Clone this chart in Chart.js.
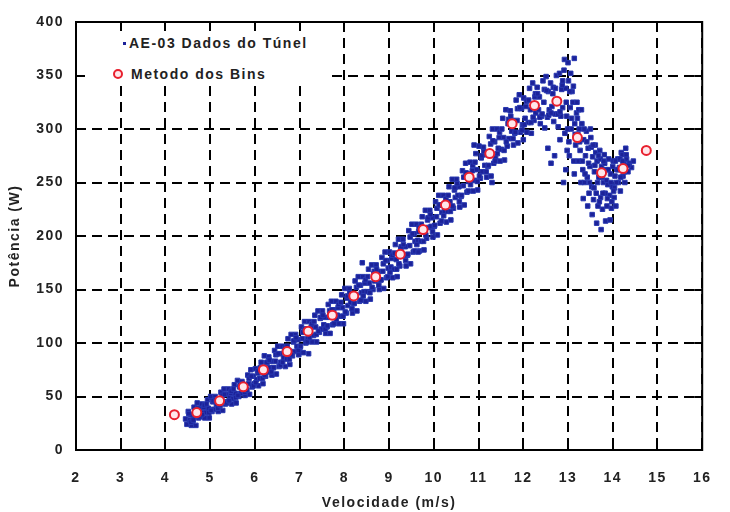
<!DOCTYPE html>
<html>
<head>
<meta charset="utf-8">
<script src="https://cdn.jsdelivr.net/npm/chart.js@4.4.1/dist/chart.umd.min.js"></script>
<style>
  html, body { margin: 0; padding: 0; background: #fff; }
  #wrap { position: relative; width: 730px; height: 512px; }
  #legend { position: absolute; left: 85px; top: 31px; width: 247px; height: 55px; background: #fff;
            font: bold 14px "Liberation Sans", Arial, sans-serif; letter-spacing: 1.5px; color: #222; }
  #legend span { position: absolute; line-height: 16px; white-space: nowrap; }
  .dot { position: absolute; left: 38px; top: 11px; width: 3px; height: 3px; background: #1c2299; }
  .ring { position: absolute; left: 28px; top: 38px; width: 6px; height: 6px; border: 2px solid #e8202e;
          border-radius: 50%; background: #ffe6ea; }
</style>
</head>
<body>
<div id="wrap">
  <canvas id="chart" width="730" height="512"></canvas>
  <div id="legend">
    <div class="dot"></div><span style="left:44px;top:4px">AE-03 Dados do Túnel</span>
    <div class="ring"></div><span style="left:46px;top:35px">Metodo dos Bins</span>
  </div>
</div>
<script>
// Método dos bins (pontos vermelhos)
const binSpeed = [4.2, 4.7, 5.21, 5.74, 6.19, 6.72, 7.19, 7.73, 8.21, 8.7, 9.25, 9.76, 10.26, 10.79, 11.25, 11.75, 12.25, 12.75, 13.21, 13.75, 14.23, 14.75];
const binPower = [33, 35, 46, 59, 75, 92, 111, 126, 144, 162, 183, 206, 229, 255, 277, 305, 322, 326, 292, 259, 263, 280];

const tunnelPoints = [
  [4.45,29],[4.48,24],[4.51,36],[4.54,28],[4.56,33],[4.58,23],[4.61,27],[4.64,40],[4.66,32],[4.68,23],
  [4.71,44],[4.74,30],[4.76,39],[4.78,32],[4.81,43],[4.84,35],[4.86,40],[4.88,30],[4.91,35],[4.94,47],
  [4.96,39],[4.98,30],[5.01,50],[5.04,36],[5.06,45],[5.08,38],[5.11,50],[5.14,42],[5.16,46],[5.18,36],
  [5.21,41],[5.24,54],[5.26,46],[5.28,37],[5.31,57],[5.34,43],[5.36,52],[5.38,45],[5.41,57],[5.44,49],
  [5.46,53],[5.48,43],[5.51,48],[5.54,61],[5.56,53],[5.58,44],[5.61,65],[5.64,50],[5.66,59],[5.68,53],
  [5.71,64],[5.74,56],[5.76,61],[5.78,51],[5.81,56],[5.84,70],[5.86,62],[5.88,52],[5.91,75],[5.94,59],
  [5.96,69],[5.98,62],[6.01,76],[6.04,66],[6.06,72],[6.08,60],[6.11,67],[6.14,82],[6.16,73],[6.18,62],
  [6.21,88],[6.24,69],[6.26,81],[6.28,73],[6.31,87],[6.34,77],[6.36,83],[6.38,70],[6.41,77],[6.44,93],
  [6.46,83],[6.48,71],[6.51,97],[6.54,78],[6.56,90],[6.58,82],[6.61,97],[6.64,86],[6.66,92],[6.68,78],
  [6.71,85],[6.74,104],[6.76,93],[6.78,80],[6.81,108],[6.84,88],[6.86,101],[6.88,92],[6.91,108],[6.94,97],
  [6.96,103],[6.98,89],[7.01,96],[7.04,115],[7.06,104],[7.08,91],[7.11,120],[7.14,100],[7.16,113],[7.18,104],
  [7.21,120],[7.24,108],[7.26,115],[7.28,101],[7.31,107],[7.34,126],[7.36,115],[7.38,101],[7.41,130],[7.44,110],
  [7.46,123],[7.48,113],[7.51,130],[7.54,117],[7.56,124],[7.58,109],[7.61,115],[7.64,136],[7.66,124],[7.68,109],
  [7.71,139],[7.74,117],[7.76,131],[7.78,124],[7.81,139],[7.84,126],[7.86,133],[7.88,118],[7.91,125],[7.94,145],
  [7.96,133],[7.98,118],[8.01,151],[8.04,128],[8.06,142],[8.08,135],[8.11,151],[8.14,138],[8.16,145],[8.18,128],
  [8.21,137],[8.24,158],[8.26,145],[8.28,130],[8.31,162],[8.34,139],[8.36,154],[8.38,147],[8.41,162],[8.44,148],
  [8.46,156],[8.48,139],[8.51,148],[8.54,169],[8.56,156],[8.58,141],[8.61,173],[8.64,150],[8.66,165],[8.68,158],
  [8.71,173],[8.74,159],[8.76,167],[8.78,150],[8.81,159],[8.84,180],[8.86,167],[8.88,151],[8.91,185],[8.94,161],
  [8.96,177],[8.98,170],[9.01,185],[9.04,171],[9.06,179],[9.08,161],[9.11,169],[9.14,192],[9.16,178],[9.18,162],
  [9.21,197],[9.24,172],[9.26,188],[9.28,181],[9.31,197],[9.34,182],[9.36,190],[9.38,172],[9.41,182],[9.44,205],
  [9.46,191],[9.48,174],[9.51,211],[9.54,185],[9.56,202],[9.58,195],[9.61,211],[9.64,196],[9.66,204],[9.68,186],
  [9.71,195],[9.74,218],[9.76,204],[9.78,187],[9.81,224],[9.84,198],[9.86,215],[9.88,208],[9.91,224],[9.94,209],
  [9.96,217],[9.98,199],[10.01,209],[10.04,232],[10.06,218],[10.08,201],[10.11,238],[10.14,212],[10.16,229],[10.18,222],
  [10.21,238],[10.24,223],[10.26,231],[10.28,213],[10.31,223],[10.34,246],[10.36,232],[10.38,215],[10.41,253],[10.44,226],
  [10.46,243],[10.48,236],[10.51,253],[10.54,238],[10.56,246],[10.58,227],[10.61,237],[10.64,261],[10.66,247],[10.68,229],
  [10.71,268],[10.74,241],[10.76,258],[10.78,251],[10.81,269],[10.84,252],[10.86,261],[10.88,242],[10.91,252],[10.94,277],
  [10.96,262],[10.98,243],[11.01,284],[11.04,254],[11.06,273],[11.08,260],[11.11,283],[11.14,266],[11.16,276],[11.18,255],
  [11.21,265],[11.24,293],[11.26,277],[11.28,256],[11.31,300],[11.34,268],[11.36,288],[11.38,274],[11.41,300],[11.44,282],
  [11.46,292],[11.48,270],[11.51,281],[11.54,310],[11.56,292],[11.58,271],[11.61,318],[11.64,284],[11.66,305],[11.68,291],
  [11.71,317],[11.74,298],[11.76,308],[11.78,285],[11.81,296],[11.84,327],[11.86,308],[11.88,287],[11.91,332],[11.94,297],
  [11.96,319],[11.98,304],[12.01,329],[12.04,310],[12.06,321],[12.08,297],[12.11,306],[12.14,338],[12.16,318],[12.18,296],
  [12.21,343],[12.24,308],[12.26,330],[12.28,315],[12.31,339],[12.34,318],[12.36,330],[12.38,305],[12.41,312],[12.44,345],
  [12.46,325],[12.48,301],[12.51,349],[12.54,311],[12.56,335],[12.58,318],[12.61,343],[12.64,321],[12.66,333],[12.68,307],
  [12.71,314],[12.74,350],[12.76,327],[12.78,302],[12.81,352],[12.84,312],[12.86,337],[12.88,320],
  [12.91,355],[12.93,296],[12.95,338],[12.97,312],[12.92,365],[12.98,280],
  [13.01,345],[13.03,275],[13.05,320],[13.07,300],[13.09,335],[13.02,288],[13.06,352],
  [13.11,325],[13.13,270],[13.15,305],[13.17,285],[13.19,315],[13.14,258],[13.14,366],
  [13.21,310],[13.23,270],[13.25,300],[13.27,280],[13.29,250],[13.24,318],
  [13.31,305],[13.33,262],[13.35,290],[13.37,250],[13.39,275],[13.34,235],
  [13.41,298],[13.43,255],[13.45,282],[13.47,240],[13.49,265],[13.44,228],
  [13.51,292],[13.53,246],[13.55,274],[13.57,234],[13.59,260],[13.54,220],[13.52,283],
  [13.61,285],[13.63,240],[13.65,270],[13.67,228],[13.69,255],[13.64,212],[13.62,278],
  [13.71,280],[13.73,236],[13.75,265],[13.77,225],[13.79,250],[13.74,206],[13.72,272],
  [13.81,276],[13.83,240],[13.85,262],[13.87,228],[13.89,248],[13.84,214],[13.82,268],
  [13.91,272],[13.93,238],[13.95,258],[13.97,226],[13.99,246],[13.94,215],
  [14.01,270],[14.03,236],[14.05,256],[14.07,228],[14.09,262],[14.04,245],
  [14.11,272],[14.13,250],[14.15,264],[14.17,242],[14.19,278],
  [14.21,276],[14.23,256],[14.25,268],[14.27,250],[14.29,282],
  [14.31,272],[14.34,260],[14.37,268],[14.42,264],[14.46,270],
  // segunda camada, entre as colunas
  [4.52,34],[4.57,26],[4.62,28],[4.67,37],[4.72,39],[4.77,31],[4.82,33],[4.87,42],[4.92,43],[4.97,35],
  [5.02,37],[5.07,46],[5.12,47],[5.17,39],[5.22,42],[5.27,51],[5.32,52],[5.37,44],[5.42,46],[5.47,55],
  [5.52,57],[5.57,49],[5.62,51],[5.67,61],[5.72,62],[5.77,54],[5.82,56],[5.87,67],[5.92,69],[5.97,60],
  [6.02,63],[6.07,74],[6.12,77],[6.17,67],[6.22,70],[6.27,82],[6.32,84],[6.37,73],[6.42,77],[6.47,89],
  [6.52,90],[6.57,79],[6.62,82],[6.67,95],[6.72,97],[6.77,85],[6.82,89],[6.87,102],[6.92,105],[6.97,93],
  [7.02,97],[7.07,110],[7.12,113],[7.17,101],[7.22,105],[7.27,118],[7.32,120],[7.37,108],[7.42,111],[7.47,124],
  [7.52,126],[7.57,113],[7.62,116],[7.67,130],[7.72,131],[7.77,118],[7.82,122],[7.87,136],[7.92,138],[7.97,125],
  [8.02,129],[8.07,144],[8.12,147],[8.17,132],[8.22,137],[8.27,152],[8.32,154],[8.37,140],[8.42,144],[8.47,159],
  [8.52,162],[8.57,147],[8.62,152],[8.67,167],[8.72,169],[8.77,154],[8.82,159],[8.87,174],[8.92,177],[8.97,162],
  [9.02,166],[9.07,182],[9.12,184],[9.17,169],[9.22,174],[9.27,190],[9.32,192],[9.37,177],[9.42,183],[9.47,199],
  [9.52,202],[9.57,186],[9.62,192],[9.67,208],[9.72,211],[9.77,195],[9.82,201],[9.87,217],[9.92,220],[9.97,204],
  [10.02,210],[10.07,226],[10.12,229],[10.17,214],[10.22,219],[10.27,235],[10.32,238],[10.37,223],[10.42,228],[10.47,245],
  [10.52,249],[10.57,232],[10.62,238],[10.67,255],[10.72,259],[10.77,242],[10.82,248],[10.87,266],[10.92,269],[10.97,251],
  [11.02,256],[11.07,275],[11.12,279],[11.17,260],[11.22,266],[11.27,286],[11.32,289],[11.37,270],[11.42,277],[11.47,297],
  [11.52,300],[11.57,280],[11.62,288],[11.67,309],[11.72,312],[11.77,291],[11.82,297],[11.87,319],[11.92,320],[11.97,299],
  [12.02,304],[12.07,326],[12.12,327],[12.17,306],[12.22,311],[12.27,333],[12.32,333],[12.37,311],[12.42,314],[12.47,337],
  [12.52,336],[12.57,313],[12.62,315],[12.67,339],[12.72,338],[12.77,314],[12.82,316],[12.87,341],
  [12.96,325],[12.99,300],[13.04,335],[13.08,310],[13.12,340],[13.16,295],[13.2,325],[13.22,295],[13.26,288],[13.3,318],
  [13.32,270],[13.36,300],[13.38,258],[13.42,288],[13.46,268],[13.48,250],[13.5,300],[13.56,285],[13.58,245],[13.6,266],
  [13.66,250],[13.68,275],[13.7,232],[13.76,255],[13.78,240],[13.8,270],[13.86,252],[13.88,235],[13.9,262],[13.96,250],
  [13.98,232],[14.0,265],[14.02,242],[14.06,270],[14.08,250],[14.12,262],[14.16,272],[14.18,255],[14.22,270],[14.26,260],
  [14.3,276],[14.35,266],
  // pontos dispersos
  [12.55,282],[12.7,275],[12.82,290],[12.95,262],[12.62,268],[12.9,250],
  [8.4,175],[9.65,185],[7.2,90],[10.9,285],[11.3,250],[12.0,290],[13.0,362],[12.88,345]
];

const tunnelData = tunnelPoints.map(p => ({ x: p[0], y: p[1] }));
const binData = binSpeed.map((v, i) => ({ x: v, y: binPower[i] }));

const fontFamily = "'Liberation Sans', Arial, sans-serif";
const textColor = '#222';

// espaçamento entre letras igual ao da figura
const spacingPlugin = {
  id: 'spacing',
  beforeDraw(chart) { chart.ctx.letterSpacing = '1.5px'; }
};

// moldura e ticks para dentro
const framePlugin = {
  id: 'frame',
  afterDraw(chart) {
    const { ctx, chartArea: a, scales } = chart;
    ctx.save();
    ctx.strokeStyle = '#000';
    ctx.lineWidth = 2;
    ctx.beginPath();
    scales.x.ticks.forEach(t => {
      const px = Math.round(scales.x.getPixelForValue(t.value));
      ctx.moveTo(px, a.bottom); ctx.lineTo(px, a.bottom - 8);
      ctx.moveTo(px, a.top); ctx.lineTo(px, a.top + 8);
    });
    scales.y.ticks.forEach(t => {
      const py = Math.round(scales.y.getPixelForValue(t.value));
      ctx.moveTo(a.left, py); ctx.lineTo(a.left + 8, py);
      ctx.moveTo(a.right, py); ctx.lineTo(a.right - 8, py);
    });
    ctx.stroke();
    ctx.strokeRect(a.left, a.top, a.right - a.left, a.bottom - a.top);
    ctx.restore();
  }
};

const ctx = document.getElementById('chart').getContext('2d');

const cfg = {
  type: 'scatter',
  data: {
    datasets: [
      {
        label: 'AE-03 Dados do Túnel',
        data: tunnelData,
        pointStyle: 'rect',
        pointRadius: 3.2,
        borderWidth: 1,
        backgroundColor: '#1c2299',
        borderColor: '#2838b0',
        order: 2
      },
      {
        label: 'Metodo dos Bins',
        data: binData,
        pointStyle: 'circle',
        pointRadius: 4.5,
        borderWidth: 2,
        borderColor: '#e8202e',
        backgroundColor: '#ffe6ea',
        order: 1
      }
    ]
  },
  options: {
    responsive: false,
    animation: false,
    layout: { padding: { top: 22, right: 12, left: 0, bottom: 0 } },
    plugins: {
      legend: { display: false },
      tooltip: { enabled: false }
    },
    scales: {
      x: {
        type: 'linear',
        min: 2,
        max: 16,
        afterFit: s => { s.height = 62; },
        ticks: {
          stepSize: 1,
          padding: 20,
          color: textColor,
          font: { family: fontFamily, size: 14, weight: 'bold' }
        },
        grid: { color: '#000', lineWidth: 2, drawTicks: false },
        border: { display: false, dash: [10, 6] },
        title: {
          display: true,
          text: 'Velocidade (m/s)',
          color: textColor,
          padding: { top: 0, bottom: 0 },
          font: { family: fontFamily, size: 14, weight: 'bold' }
        }
      },
      y: {
        min: 0,
        max: 400,
        afterFit: s => { s.width = 76; },
        ticks: {
          stepSize: 50,
          padding: 12,
          color: textColor,
          font: { family: fontFamily, size: 14, weight: 'bold' }
        },
        grid: { color: '#000', lineWidth: 2, drawTicks: false },
        border: { display: false, dash: [10, 6] },
        title: {
          display: true,
          text: 'Potência (W)',
          color: textColor,
          padding: { top: 7, bottom: 0 },
          font: { family: fontFamily, size: 14, weight: 'bold' }
        }
      }
    }
  },
  plugins: [spacingPlugin, framePlugin]
};

const chart = new Chart(ctx, cfg);
</script>
</body>
</html>
